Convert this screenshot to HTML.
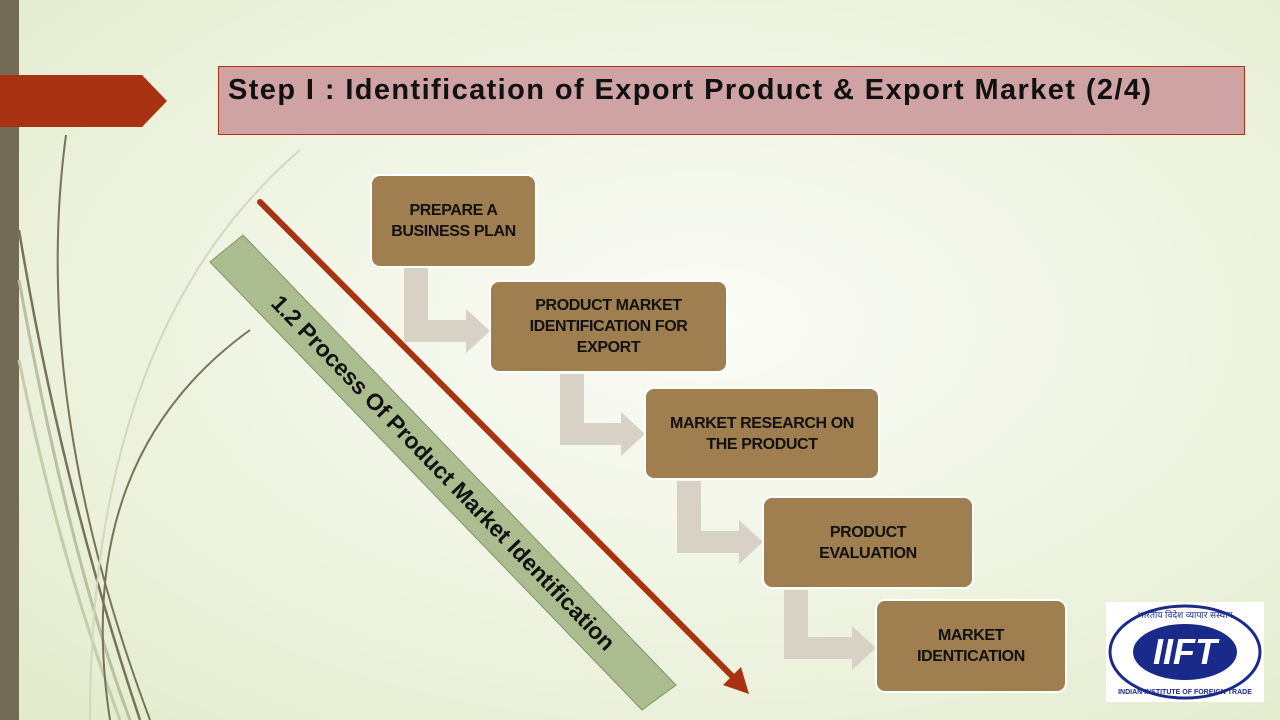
<!DOCTYPE html><html><head><meta charset="utf-8"><style>
body{margin:0;width:1280px;height:720px;overflow:hidden;font-family:"Liberation Sans",sans-serif}
#bg{position:absolute;inset:0;background:radial-gradient(ellipse at 55% 45%,#fbfcf7 0%,#eef3e0 55%,#e2ebcc 100%)}
.box{position:absolute;background:#9f7f4f;border:2px solid #fff;border-radius:10px;box-sizing:border-box;display:flex;align-items:center;justify-content:center;text-align:center;font-weight:bold;font-size:16px;line-height:21px;color:#111;letter-spacing:-0.4px}
</style></head><body><div id="bg"></div>
<div style="position:absolute;left:0;top:0;width:19px;height:720px;background:#736b55"></div>
<svg style="position:absolute;left:0;top:0" width="1280" height="720">
<polygon points="0,75 142,75 167,101 142,127 0,127" fill="#a83211"/>
<g fill="none">
<path d="M66,135 Q30,400 150,720" stroke="#7a7258" stroke-width="2"/>
<path d="M19,230 Q60,480 140,720" stroke="#7a7258" stroke-width="2.5"/>
<path d="M19,280 Q70,560 130,720" stroke="#b9bf9f" stroke-width="3"/>
<path d="M19,360 Q60,560 120,720" stroke="#c6ccaa" stroke-width="3"/>
<path d="M250,330 Q70,460 110,720" stroke="#7a7258" stroke-width="2"/>
<path d="M300,150 Q90,330 90,720" stroke="#d3d8bd" stroke-width="2"/>
</g>
<polygon points="210,262 243,235 676,685 642,710" fill="#abbd8f" stroke="#7f9368" stroke-width="1"/>
<text x="0" y="0" transform="translate(442,474) rotate(46)" text-anchor="middle" dominant-baseline="middle" font-family="Liberation Sans" font-weight="bold" font-size="23" fill="#111">1.2 Process Of Product Market Identification</text>
<line x1="260" y1="202" x2="733" y2="677" stroke="#a83211" stroke-width="6" stroke-linecap="round"/>
<polygon points="749,694 723,685 741,667" fill="#a83211"/>
<g fill="#d8d1c6">
<polygon points="404,268 428,268 428,320 466,320 466,309 490,331 466,353 466,342 404,342"/>
<polygon points="560,374 584,374 584,423 621,423 621,412 645,434 621,456 621,445 560,445"/>
<polygon points="677,481 701,481 701,531 739,531 739,520 763,542 739,564 739,553 677,553"/>
<polygon points="784,590 808,590 808,637 852,637 852,626 876,648 852,670 852,659 784,659"/>
</g>
</svg>
<div style="position:absolute;left:218px;top:66px;width:1027px;height:69px;background:#cfa3a3;border:1px solid #a83211;box-sizing:border-box"></div>
<div style="position:absolute;left:228px;top:74px;font-weight:bold;font-size:29px;color:#111;letter-spacing:1.4px;white-space:nowrap">Step I : Identification of Export Product &amp; Export Market (2/4)</div>
<div class="box" style="left:370px;top:174px;width:167px;height:94px">PREPARE A<br>BUSINESS PLAN</div>
<div class="box" style="left:489px;top:280px;width:239px;height:93px">PRODUCT MARKET<br>IDENTIFICATION FOR<br>EXPORT</div>
<div class="box" style="left:644px;top:387px;width:236px;height:93px">MARKET RESEARCH ON<br>THE PRODUCT</div>
<div class="box" style="left:762px;top:496px;width:212px;height:93px">PRODUCT<br>EVALUATION</div>
<div class="box" style="left:875px;top:599px;width:192px;height:94px">MARKET<br>IDENTICATION</div>
<div style="position:absolute;left:1106px;top:602px;width:158px;height:100px;background:#fff"></div>
<svg style="position:absolute;left:1106px;top:602px" width="158" height="100">
<ellipse cx="79" cy="50" rx="75" ry="46" fill="#fff" stroke="#1a2a8a" stroke-width="3"/>
<ellipse cx="79" cy="50" rx="52" ry="28" fill="#1a2a8a"/>
<text x="79" y="62" text-anchor="middle" font-family="Liberation Sans" font-weight="bold" font-style="italic" font-size="36" fill="#fff">IIFT</text>
<text x="79" y="16" text-anchor="middle" font-family="Liberation Sans" font-size="9" fill="#1a2a8a">भारतीय विदेश व्यापार संस्थान</text>
<text x="79" y="92" text-anchor="middle" font-family="Liberation Sans" font-weight="bold" font-size="7" fill="#1a2a8a">INDIAN INSTITUTE OF FOREIGN TRADE</text>
</svg>
</body></html>
